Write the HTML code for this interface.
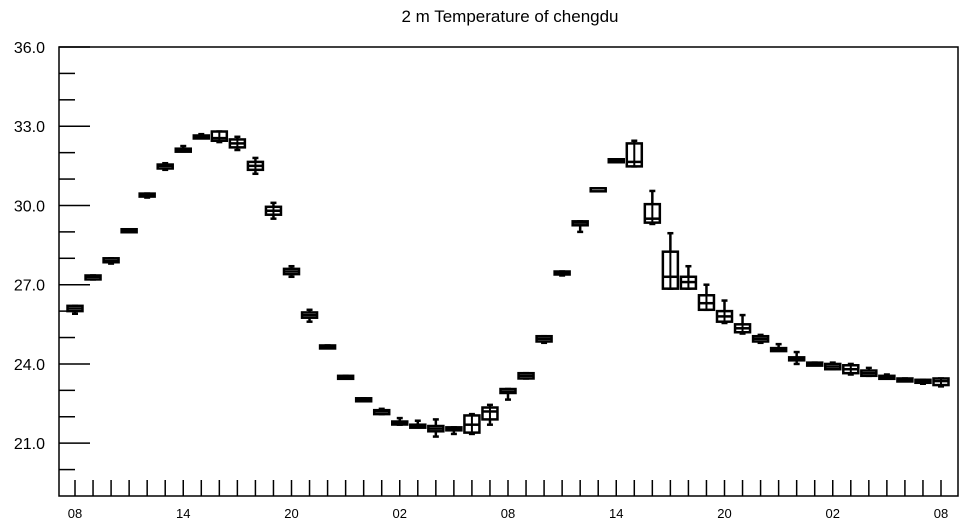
<!DOCTYPE html>
<html><head><meta charset="utf-8"><style>
html,body{margin:0;padding:0;background:#fff;}
svg{display:block;font-family:"Liberation Sans",sans-serif;}
</style></head><body>
<svg id="chart" width="964" height="525" viewBox="0 0 964 525">
<text x="510" y="22" text-anchor="middle" font-size="17">2 m Temperature of chengdu</text>
<g id="axes"></g>
<g id="boxes"></g>
</svg>
<script>
const hourLabels = ["08","14","20","02","08","14","20","02","08"];
const yTicks = [21.0,24.0,27.0,30.0,33.0,36.0];
const mins = [25.9,27.2,27.8,29.0,30.3,31.35,32.05,32.55,32.4,32.1,31.2,29.5,27.3,25.6,24.6,23.45,22.6,22.1,21.7,21.6,21.25,21.35,21.35,21.7,22.65,23.45,24.8,27.35,29.0,30.6,31.7,31.48,29.3,26.85,26.85,26.05,25.55,25.15,24.8,24.5,24.0,23.95,23.8,23.6,23.55,23.45,23.35,23.25,23.15];
const q1s = [26.0,27.2,27.85,29.0,30.35,31.4,32.05,32.6,32.45,32.2,31.35,29.65,27.4,25.75,24.6,23.45,22.6,22.1,21.72,21.6,21.45,21.5,21.4,21.9,22.9,23.45,24.85,27.4,29.25,30.6,31.7,31.48,29.35,26.85,26.85,26.05,25.6,25.2,24.85,24.5,24.15,23.95,23.8,23.65,23.55,23.45,23.35,23.3,23.2];
const medians = [26.1,27.3,27.9,29.05,30.4,31.5,32.1,32.6,32.55,32.35,31.5,29.8,27.5,25.85,24.65,23.5,22.65,22.2,21.78,21.65,21.55,21.55,21.7,22.2,22.95,23.55,24.95,27.45,29.35,30.65,31.72,31.65,29.5,27.3,27.1,26.3,25.8,25.35,24.95,24.55,24.2,24.0,23.9,23.8,23.65,23.5,23.4,23.35,23.35];
const q3s = [26.2,27.35,28.0,29.1,30.45,31.55,32.15,32.65,32.8,32.5,31.65,29.95,27.6,25.95,24.7,23.55,22.7,22.25,21.82,21.7,21.65,21.6,22.05,22.35,23.05,23.65,25.05,27.5,29.4,30.65,31.75,32.35,30.05,28.25,27.3,26.6,26.0,25.5,25.05,24.6,24.25,24.05,24.0,23.95,23.75,23.55,23.45,23.4,23.45];
const maxs = [26.2,27.35,28.0,29.1,30.45,31.6,32.25,32.7,32.8,32.6,31.8,30.1,27.7,26.05,24.7,23.55,22.7,22.3,21.95,21.85,21.9,21.6,22.1,22.45,23.05,23.65,25.05,27.5,29.4,30.65,31.75,32.45,30.55,28.95,27.7,27.0,26.4,25.85,25.1,24.75,24.45,24.05,24.05,24.0,23.85,23.6,23.45,23.4,23.45];

const L=59,R=958,T=47,B=496,X0=75,DX=(941-75)/48;
const Y0=19,Y1=36;
const xs=i=>X0+i*DX;
const ys=v=>B-(v-Y0)/(Y1-Y0)*(B-T);
const NS="http://www.w3.org/2000/svg";
function mk(tag,attrs,parent){const e=document.createElementNS(NS,tag);for(const k in attrs)e.setAttribute(k,attrs[k]);parent.appendChild(e);return e;}
const ax=document.getElementById('axes');
const frame=mk('rect',{x:L,y:T,width:R-L,height:B-T,fill:'none',stroke:'#000','stroke-width':1.5},ax);


for(let v=20;v<=36;v++){
  const major=yTicks.includes(v);
  const t=mk('line',{x1:L,x2:L+(major?31:16),y1:ys(v),y2:ys(v),stroke:'#000','stroke-width':1.5},ax);
  
  
}
yTicks.forEach(v=>{
  const t=mk('text',{x:45,y:ys(v)+6,'text-anchor':'end','font-size':16},ax);
  t.textContent=v.toFixed(1);
  
  
});
for(let i=0;i<medians.length;i++){
  const t=mk('line',{x1:xs(i),x2:xs(i),y1:B,y2:B-16,stroke:'#000','stroke-width':1.5},ax);
  
  
}
hourLabels.forEach((h,j)=>{
  const t=mk('text',{x:xs(j*6),y:518,'text-anchor':'middle','font-size':13},ax);
  t.textContent=h;
  
  
});
const bx=document.getElementById('boxes');
const W=15;
for(let i=0;i<medians.length;i++){
  const g=mk('g',{stroke:'#000','stroke-width':2.5,fill:'none'},bx);
  
  
  const x=xs(i);
  mk('line',{x1:x,x2:x,y1:ys(maxs[i]),y2:ys(mins[i])},g);
  mk('line',{x1:x-3,x2:x+3,y1:ys(maxs[i]),y2:ys(maxs[i])},g);
  mk('line',{x1:x-3,x2:x+3,y1:ys(mins[i]),y2:ys(mins[i])},g);
  const top=ys(q3s[i]),bot=ys(q1s[i]);
  mk('rect',{x:x-W/2,y:top,width:W,height:Math.max(bot-top,3),fill:'#fff'},g);
  mk('line',{x1:x-W/2,x2:x+W/2,y1:ys(medians[i]),y2:ys(medians[i])},g);
  if(bot-top>6){mk('line',{x1:x,x2:x,y1:top,y2:bot,'stroke-width':2},g);}
}
</script>
</body></html>
